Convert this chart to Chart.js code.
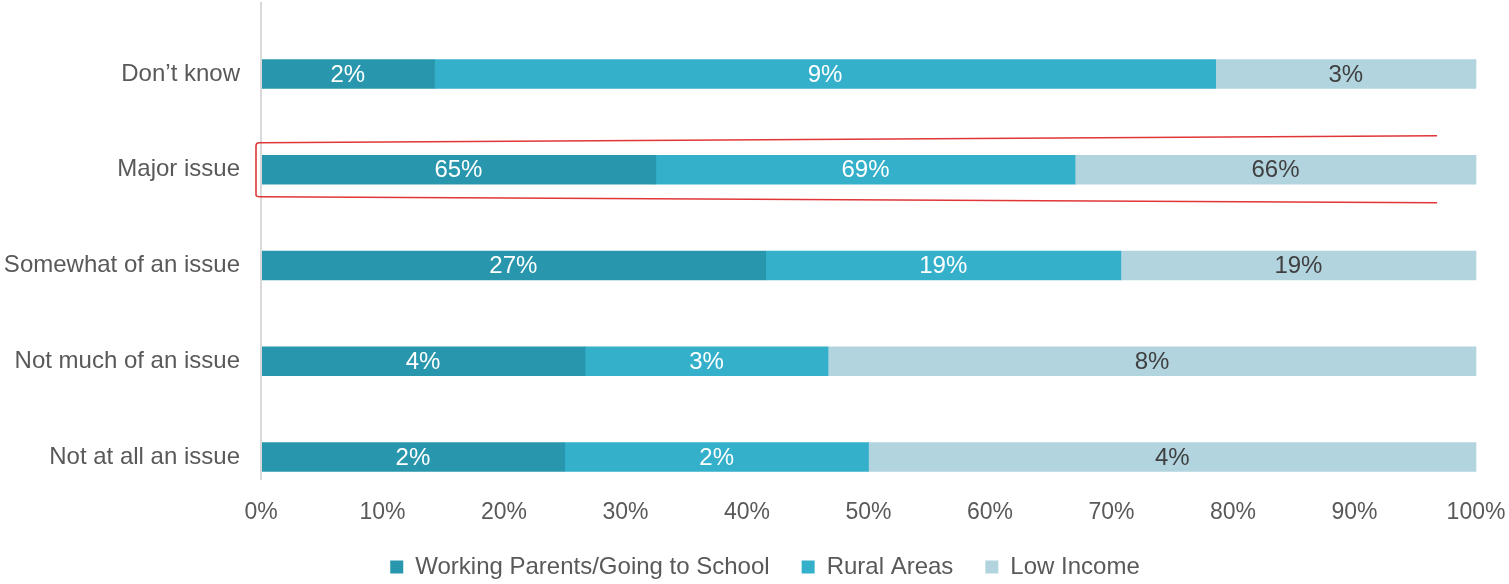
<!DOCTYPE html>
<html>
<head>
<meta charset="utf-8">
<script src="https://cdn.jsdelivr.net/npm/chart.js@4.4.0/dist/chart.umd.min.js"></script>
<style>
  html, body { margin: 0; padding: 0; background: #fff; }
  #wrap { width: 1509px; height: 584px; position: relative; }
</style>
</head>
<body>
<div id="wrap"><canvas id="issueChart"></canvas></div>
<script>
const categories = ['Don\u2019t know', 'Major issue', 'Somewhat of an issue', 'Not much of an issue', 'Not at all an issue'];
const seriesNames = ['Working Parents/Going to School', 'Rural Areas', 'Low Income'];
const workingParents = [2, 65, 27, 4, 2];
const ruralAreas = [9, 69, 19, 3, 2];
const lowIncome = [3, 66, 19, 8, 4];
const xTickStep = 10; // 0% .. 100%

const raw = [workingParents, ruralAreas, lowIncome];
const totals = categories.map((c, i) => raw.reduce((s, arr) => s + arr[i], 0));
const shares = raw.map(arr => arr.map((v, i) => v / totals[i] * 100));

const colors = ['#2897ad', '#34b0cb', '#b1d4df'];
const labelColors = ['#ffffff', '#ffffff', '#404040'];
const FONT = "'Liberation Sans', Arial, sans-serif";

// value labels centred in each segment
const segmentLabels = {
    id: 'segmentLabels',
    afterDatasetsDraw(chart) {
        const ctx = chart.ctx;
        ctx.save();
        ctx.font = '24px ' + FONT;
        ctx.textAlign = 'center';
        ctx.textBaseline = 'middle';
        chart.data.datasets.forEach((ds, di) => {
            chart.getDatasetMeta(di).data.forEach((bar, i) => {
                const p = bar.getCenterPoint();
                ctx.fillStyle = labelColors[di];
                ctx.fillText(raw[di][i] + '%', p.x, p.y + 1);
            });
        });
        ctx.restore();
    }
};

// grey axis line on the left + red hand-drawn highlight around "Major issue"
const decorations = {
    id: 'decorations',
    afterLayout(chart) {
        // legend sits a little right of centre in the original
        chart.legend.left += 27;
        chart.legend.right += 27;
    },
    afterDraw(chart) {
        const ctx = chart.ctx;
        const a = chart.chartArea;
        ctx.save();
        ctx.strokeStyle = '#d9d9d9';
        ctx.lineWidth = 2;
        ctx.beginPath();
        ctx.moveTo(a.left, a.top - 72);
        ctx.lineTo(a.left, a.bottom + 23);
        ctx.stroke();

        const bar = chart.getDatasetMeta(0).data[1];
        const y = bar.y;
        const xl = a.left - 5;
        const xr = chart.scales.x.getPixelForValue(96.8);
        ctx.strokeStyle = '#e03636';
        ctx.lineWidth = 1.6;
        ctx.beginPath();
        ctx.moveTo(xr, y - 34);
        ctx.lineTo(xl + 3, y - 27);
        ctx.quadraticCurveTo(xl, y - 27, xl, y - 24);
        ctx.lineTo(xl, y + 25);
        ctx.quadraticCurveTo(xl, y + 27, xl + 4, y + 27);
        ctx.lineTo(xr, y + 33);
        ctx.stroke();
        ctx.restore();
    }
};

new Chart(document.getElementById('issueChart'), {
    type: 'bar',
    data: {
        labels: categories,
        datasets: seriesNames.map((name, di) => ({
            label: name,
            data: shares[di],
            backgroundColor: colors[di],
            borderWidth: 0,
            barThickness: 29,
            clip: false
        }))
    },
    options: {
        indexAxis: 'y',
        responsive: true,
        maintainAspectRatio: false,
        animation: false,
        layout: { padding: { top: 74, right: 33, left: 0, bottom: -5 } },
        plugins: {
            legend: {
                position: 'bottom',
                labels: {
                    color: '#595959',
                    font: { family: FONT, size: 24 },
                    boxWidth: 13,
                    boxHeight: 13,
                    padding: 32
                }
            },
            tooltip: { enabled: false }
        },
        scales: {
            x: {
                stacked: true,
                min: 0,
                max: 100,
                grid: { display: false },
                border: { display: false },
                afterFit(scale) {
                    scale.height = 66;
                    scale.paddingLeft = 0;
                    scale.paddingRight = 33;
                },
                ticks: {
                    stepSize: xTickStep,
                    color: '#595959',
                    font: { family: FONT, size: 23 },
                    padding: 34,
                    callback: v => v + '%'
                }
            },
            y: {
                stacked: true,
                offset: false,
                grid: { display: false },
                border: { display: false },
                afterFit(scale) { scale.width = 261; },
                ticks: {
                    color: '#595959',
                    font: { family: FONT, size: 24 },
                    padding: 13
                }
            }
        }
    },
    plugins: [segmentLabels, decorations]
});
</script>
</body>
</html>
